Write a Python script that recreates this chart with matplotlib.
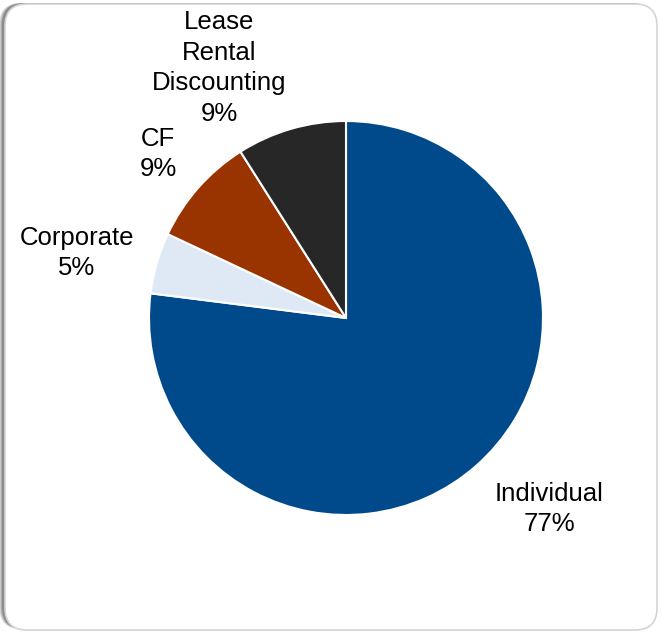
import matplotlib
matplotlib.use("Agg")
import matplotlib.pyplot as plt
from matplotlib.patches import FancyBboxPatch

plt.rcParams['font.family'] = ['Liberation Sans', 'DejaVu Sans']

# Portfolio mix
categories = ["Individual", "Corporate", "CF", "Lease\nRental\nDiscounting"]
shares = [77, 5, 9, 9]
colors = ["#004a8c", "#dfe9f6", "#993300", "#272727"]

W, H = 662, 633
fig = plt.figure(figsize=(W / 100, H / 100), dpi=100)
ax = fig.add_axes([0, 0, 1, 1])

# Card background with soft shadow
for off, a in [(5, 0.10), (4, 0.12), (3, 0.15), (2, 0.18)]:
    ax.add_patch(FancyBboxPatch((4 - off, 3 + 1), 652, 626,
                                boxstyle="round,pad=0,rounding_size=22",
                                facecolor="#000000", edgecolor="none",
                                alpha=a, zorder=0))
ax.add_patch(FancyBboxPatch((5, 3), 652, 626,
                            boxstyle="round,pad=0,rounding_size=22",
                            facecolor="white", edgecolor="#d4d4d4",
                            linewidth=1.2, zorder=1))

cx, cy, r = 346, H - 318, 197
wedges, _ = ax.pie(shares, colors=colors, startangle=90, counterclock=False,
                   center=(cx, cy), radius=r,
                   wedgeprops=dict(edgecolor="white", linewidth=1.5, zorder=2))
for w in wedges:
    w.set_zorder(2)

# Label centres (x, y from top)
label_pos = [(549, 509), (77, 253), (158, 154), (219, 68)]
for name, val, (lx, ly) in zip(categories, shares, label_pos):
    ax.text(lx, H - ly, f"{name}\n{val}%", ha="center", va="center",
            fontsize=18.5, color="black", linespacing=1.36, zorder=3)

ax.set_xlim(0, W)
ax.set_ylim(0, H)
ax.set_aspect("equal")
ax.axis("off")

fig.savefig("out.png", dpi=100)
